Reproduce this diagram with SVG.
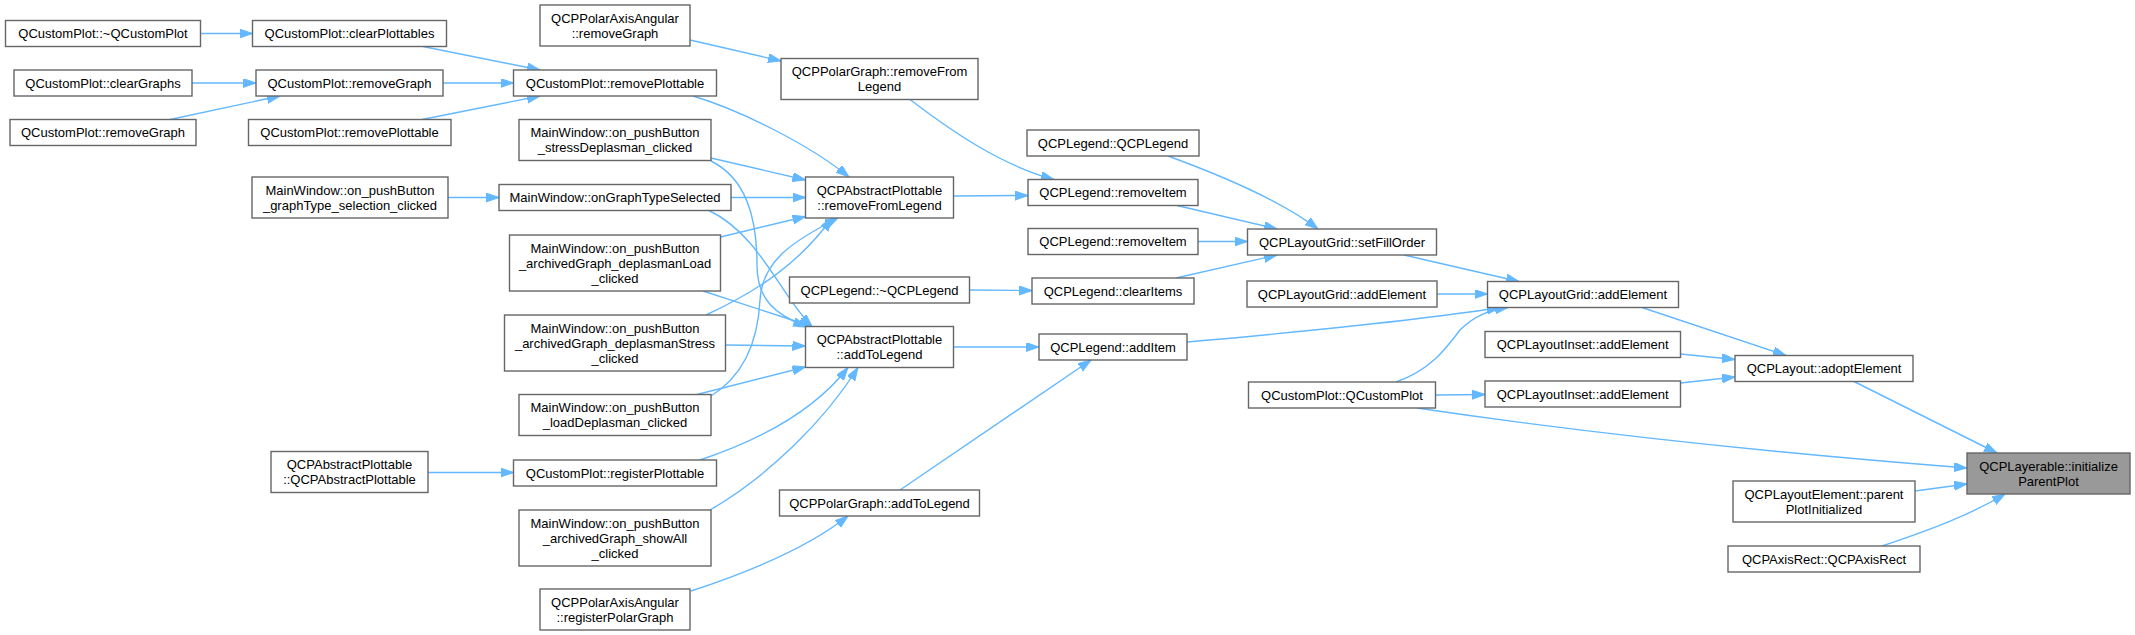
<svg xmlns="http://www.w3.org/2000/svg" width="2135" height="635" viewBox="0 0 2135 635">
<style>
.node rect{fill:#ffffff;stroke:#666666;stroke-width:1.4}
.node.hl rect{fill:#999999}
.node text{font-family:"Liberation Sans",Arial,Helvetica,sans-serif;font-size:13px;fill:#000000;text-anchor:middle}
.edges path{fill:none;stroke:#63b8ff;stroke-width:1.4;marker-end:url(#arr)}
</style>
<defs>
<marker id="arr" markerUnits="userSpaceOnUse" markerWidth="14" markerHeight="10" refX="13" refY="4.5" orient="auto">
<path d="M0,0 L13,4.5 L0,9 z" fill="#63b8ff" stroke="#63b8ff" stroke-width="1"/>
</marker>
</defs>
<rect width="2135" height="635" fill="#ffffff"/>
<g class="edges" id="edges">
<path d="M200.5,33.5 L252.5,33.5"/>
<path d="M423,46.5 L540,70"/>
<path d="M192,83 L256,83"/>
<path d="M170,119.5 L280,96"/>
<path d="M443,83 L513.5,83"/>
<path d="M422,119.5 L540,96"/>
<path d="M690,40 L781,61"/>
<path d="M693,96 C740,110 810,145 849,177"/>
<path d="M711,158 L805.5,180"/>
<path d="M711,161 C745,178 757,215 757,265 C757,300 775,314 806,327"/>
<path d="M448,197.5 L499,197.5"/>
<path d="M731,197.5 L805.5,197.5"/>
<path d="M709,210.5 C760,235 780,295 812,326.5"/>
<path d="M720.5,237 L805.5,216.5"/>
<path d="M703,291 L812,326.5"/>
<path d="M706,315 C760,290 800,262 832,218"/>
<path d="M725.5,345 L805.5,346"/>
<path d="M711,396 C745,375 758,340 760,300 C762,260 795,240 838,218"/>
<path d="M697,394.5 L805.5,367"/>
<path d="M700,460 C760,440 815,410 848,367.5"/>
<path d="M710,510 C770,475 825,420 858,367.5"/>
<path d="M428,472.5 L513.5,472.5"/>
<path d="M691,591 C740,575 805,550 848,516"/>
<path d="M910,99.5 C950,130 1000,165 1054,179.5"/>
<path d="M953.5,196 L1028,195.5"/>
<path d="M969.5,290 L1032,290.5"/>
<path d="M953.5,347 L1039,347"/>
<path d="M900,490 L1091,360"/>
<path d="M1168,156 C1220,175 1280,200 1318,229"/>
<path d="M1177,205.5 L1277,229"/>
<path d="M1198,241.5 L1247.5,241.5"/>
<path d="M1176,278 L1277,255"/>
<path d="M1404,255 L1519,281.5"/>
<path d="M1437,294 L1487.5,294"/>
<path d="M1187,342 C1300,332 1420,320 1500,307.5"/>
<path d="M1396,382 C1430,370 1445,350 1460,330 C1475,315 1490,310 1508,307.5"/>
<path d="M1435.5,395 L1485,394.5"/>
<path d="M1417,408 C1600,435 1800,455 1967,468"/>
<path d="M1642,307.5 L1786,355.5"/>
<path d="M1680.5,354 L1735,359.5"/>
<path d="M1680.5,383 L1735,377"/>
<path d="M1854,381.5 L1997,453"/>
<path d="M1915,491 L1967,484"/>
<path d="M1882,546 C1930,530 1970,515 2005,494"/>
</g>
<g class="node" id="n1"><rect x="5.5" y="20.5" width="195" height="26"/><text x="103" y="38">QCustomPlot::~QCustomPlot</text></g>
<g class="node" id="n2"><rect x="14" y="70" width="178" height="26"/><text x="103" y="87.5">QCustomPlot::clearGraphs</text></g>
<g class="node" id="n3"><rect x="10" y="119.5" width="186" height="26"/><text x="103" y="137">QCustomPlot::removeGraph</text></g>
<g class="node" id="n4"><rect x="252.5" y="20.5" width="194" height="26"/><text x="349.5" y="38">QCustomPlot::clearPlottables</text></g>
<g class="node" id="n5"><rect x="256" y="70" width="187" height="26"/><text x="349.5" y="87.5">QCustomPlot::removeGraph</text></g>
<g class="node" id="n6"><rect x="248.5" y="119.5" width="202.5" height="26"/><text x="349.5" y="137">QCustomPlot::removePlottable</text></g>
<g class="node" id="n7"><rect x="252" y="177" width="196" height="41"/><text x="350" y="194.5">MainWindow::on_pushButton</text><text x="350" y="209.5">_graphType_selection_clicked</text></g>
<g class="node" id="n8"><rect x="271" y="451.5" width="157" height="41"/><text x="349.5" y="469">QCPAbstractPlottable</text><text x="349.5" y="484">::QCPAbstractPlottable</text></g>
<g class="node" id="n9"><rect x="540" y="5" width="150" height="41"/><text x="615" y="22.5">QCPPolarAxisAngular</text><text x="615" y="37.5">::removeGraph</text></g>
<g class="node" id="n10"><rect x="513.5" y="70" width="203" height="26"/><text x="615" y="87.5">QCustomPlot::removePlottable</text></g>
<g class="node" id="n11"><rect x="519" y="119.5" width="192" height="41"/><text x="615" y="137">MainWindow::on_pushButton</text><text x="615" y="152">_stressDeplasman_clicked</text></g>
<g class="node" id="n12"><rect x="499" y="184.5" width="232" height="26"/><text x="615" y="202">MainWindow::onGraphTypeSelected</text></g>
<g class="node" id="n13"><rect x="509.5" y="235" width="211" height="56"/><text x="615" y="252.5">MainWindow::on_pushButton</text><text x="615" y="267.5">_archivedGraph_deplasmanLoad</text><text x="615" y="282.5">_clicked</text></g>
<g class="node" id="n14"><rect x="504.5" y="315" width="221" height="56"/><text x="615" y="332.5">MainWindow::on_pushButton</text><text x="615" y="347.5">_archivedGraph_deplasmanStress</text><text x="615" y="362.5">_clicked</text></g>
<g class="node" id="n15"><rect x="519" y="394.5" width="192" height="41"/><text x="615" y="412">MainWindow::on_pushButton</text><text x="615" y="427">_loadDeplasman_clicked</text></g>
<g class="node" id="n16"><rect x="513.5" y="460" width="203" height="26"/><text x="615" y="477.5">QCustomPlot::registerPlottable</text></g>
<g class="node" id="n17"><rect x="519" y="510" width="192" height="56"/><text x="615" y="527.5">MainWindow::on_pushButton</text><text x="615" y="542.5">_archivedGraph_showAll</text><text x="615" y="557.5">_clicked</text></g>
<g class="node" id="n18"><rect x="540" y="589" width="150" height="41"/><text x="615" y="606.5">QCPPolarAxisAngular</text><text x="615" y="621.5">::registerPolarGraph</text></g>
<g class="node" id="n19"><rect x="781" y="58.5" width="197" height="41"/><text x="879.5" y="76">QCPPolarGraph::removeFrom</text><text x="879.5" y="91">Legend</text></g>
<g class="node" id="n20"><rect x="805.5" y="177" width="148" height="41"/><text x="879.5" y="194.5">QCPAbstractPlottable</text><text x="879.5" y="209.5">::removeFromLegend</text></g>
<g class="node" id="n21"><rect x="789.5" y="277" width="180" height="26"/><text x="879.5" y="294.5">QCPLegend::~QCPLegend</text></g>
<g class="node" id="n22"><rect x="805.5" y="326.5" width="148" height="41"/><text x="879.5" y="344">QCPAbstractPlottable</text><text x="879.5" y="359">::addToLegend</text></g>
<g class="node" id="n23"><rect x="779.5" y="490" width="200" height="26"/><text x="879.5" y="507.5">QCPPolarGraph::addToLegend</text></g>
<g class="node" id="n24"><rect x="1027" y="130" width="172" height="26"/><text x="1113" y="147.5">QCPLegend::QCPLegend</text></g>
<g class="node" id="n25"><rect x="1028" y="179.5" width="170" height="26"/><text x="1113" y="197">QCPLegend::removeItem</text></g>
<g class="node" id="n26"><rect x="1028" y="228.5" width="170" height="26"/><text x="1113" y="246">QCPLegend::removeItem</text></g>
<g class="node" id="n27"><rect x="1032" y="278" width="162" height="26"/><text x="1113" y="295.5">QCPLegend::clearItems</text></g>
<g class="node" id="n28"><rect x="1039" y="334" width="148" height="26"/><text x="1113" y="351.5">QCPLegend::addItem</text></g>
<g class="node" id="n29"><rect x="1247.5" y="229" width="189" height="26"/><text x="1342" y="246.5">QCPLayoutGrid::setFillOrder</text></g>
<g class="node" id="n30"><rect x="1247" y="281" width="190" height="26"/><text x="1342" y="298.5">QCPLayoutGrid::addElement</text></g>
<g class="node" id="n31"><rect x="1248.5" y="382" width="187" height="26"/><text x="1342" y="399.5">QCustomPlot::QCustomPlot</text></g>
<g class="node" id="n32"><rect x="1487.5" y="281.5" width="191" height="26"/><text x="1583" y="299">QCPLayoutGrid::addElement</text></g>
<g class="node" id="n33"><rect x="1485" y="331.5" width="195.5" height="26"/><text x="1582.7" y="349">QCPLayoutInset::addElement</text></g>
<g class="node" id="n34"><rect x="1485" y="381" width="195.5" height="26"/><text x="1582.7" y="398.5">QCPLayoutInset::addElement</text></g>
<g class="node" id="n35"><rect x="1735" y="355.5" width="178" height="26"/><text x="1824" y="373">QCPLayout::adoptElement</text></g>
<g class="node" id="n36"><rect x="1733" y="481" width="182" height="41"/><text x="1824" y="498.5">QCPLayoutElement::parent</text><text x="1824" y="513.5">PlotInitialized</text></g>
<g class="node" id="n37"><rect x="1728" y="546" width="192" height="26"/><text x="1824" y="563.5">QCPAxisRect::QCPAxisRect</text></g>
<g class="node hl" id="n38"><rect x="1967" y="453" width="163" height="41"/><text x="2048.5" y="470.5">QCPLayerable::initialize</text><text x="2048.5" y="485.5">ParentPlot</text></g>
</svg>
